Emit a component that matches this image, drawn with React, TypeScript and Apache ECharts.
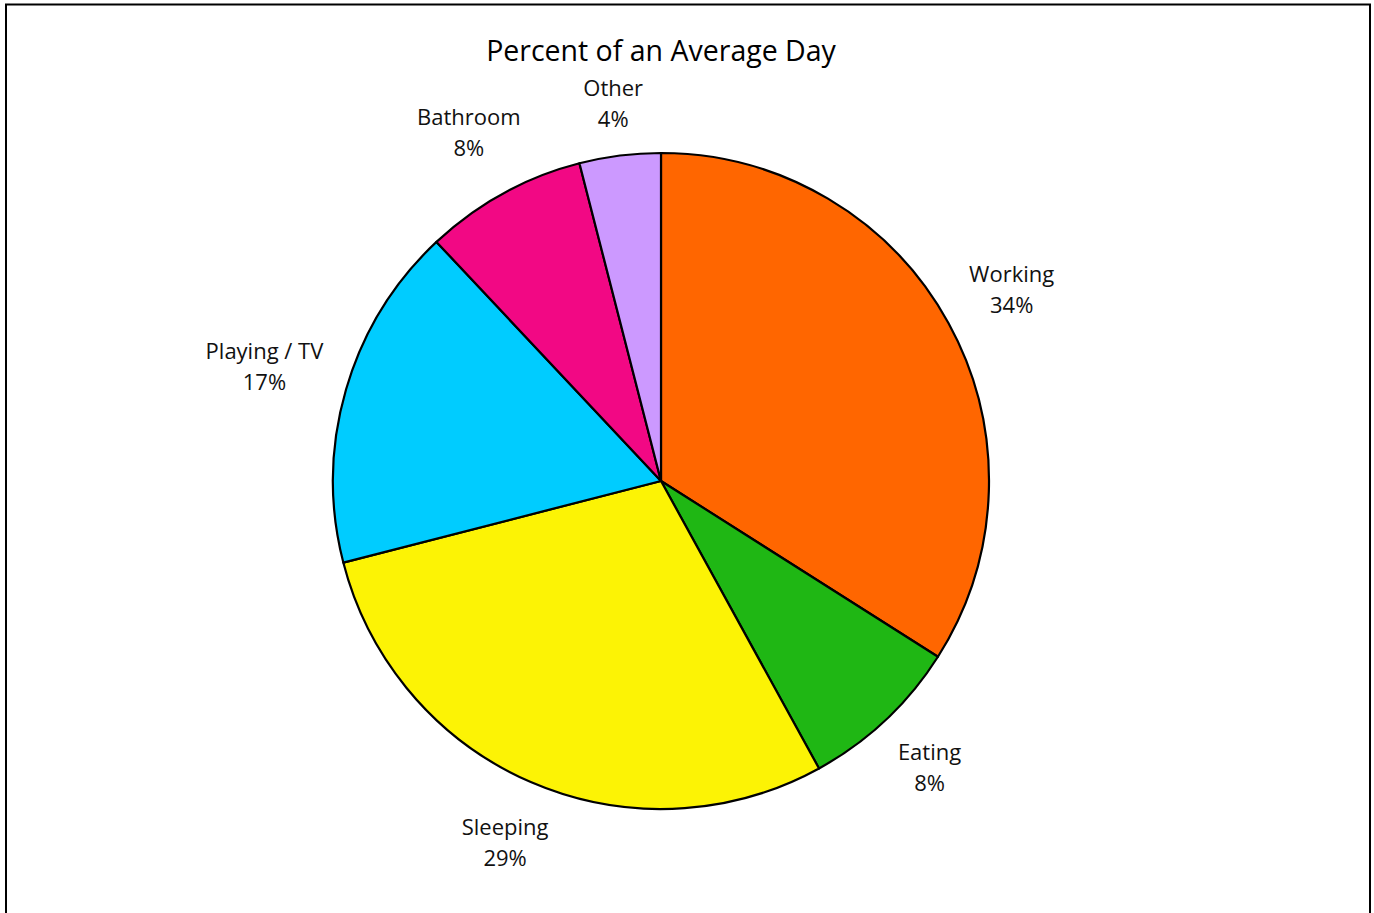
import React, { useEffect, useRef } from "react";
import * as echarts from "echarts";

const chartTitle = "Percent of an Average Day";
const categories = ["Working", "Eating", "Sleeping", "Playing / TV", "Bathroom", "Other"];
const percents = [34, 8, 29, 17, 8, 4];
const colors = ["#FF6600", "#1FB714", "#FCF305", "#00CCFF", "#F20884", "#CC99FF"];

const FONT = "'Open Sans', 'Noto Sans', sans-serif";

export default function App() {
  const ref = useRef<HTMLDivElement>(null);
  useEffect(() => {
    document.body.style.margin = "0";
    document.body.style.overflow = "hidden";
    const chart = echarts.init(ref.current!, null, { renderer: "svg" });
    const cx = 661;
    const cy = 481;
    const R = 328;
    const gap = 20;
    const total = percents.reduce((a, b) => a + b, 0);
    const mids: number[] = [];
    let acc = 0;
    percents.forEach((v) => {
      mids.push(((acc + v / 2) / total) * 2 * Math.PI);
      acc += v;
    });
    chart.setOption({
      animation: false,
      backgroundColor: "#ffffff",
      title: {
        text: chartTitle,
        left: cx,
        textAlign: "center",
        top: 35,
        padding: 0,
        textStyle: { fontFamily: FONT, fontSize: 28.5, fontWeight: "normal", color: "#000" },
      },
      graphic: [
        {
          type: "rect",
          silent: true,
          shape: { x: 6, y: 4.5, width: 1364, height: 1000 },
          style: { fill: "none", stroke: "#000", lineWidth: 2 },
        },
      ],
      series: [
        {
          type: "pie",
          center: [cx, cy],
          radius: R,
          startAngle: 90,
          clockwise: true,
          silent: true,
          emphasis: { disabled: true },
          data: categories.map((name, i) => ({
            name,
            value: percents[i],
            itemStyle: { color: colors[i] },
          })),
          itemStyle: { borderColor: "#000", borderWidth: 2.2 },
          label: {
            show: true,
            position: "outside",
            formatter: "{b}\n{c}%",
            fontFamily: FONT,
            fontSize: 22,
            lineHeight: 31,
            color: "#111",
            align: "center",
          },
          labelLine: { show: false },
          labelLayout: (p: any) => {
            const th = mids[p.dataIndex];
            const ux = Math.sin(th);
            const uy = -Math.cos(th);
            const w = p.labelRect.width;
            const h = p.labelRect.height;
            const sx = (Math.sign(ux) * w) / 2;
            const sy = (Math.sign(uy) * h) / 2;
            const us = ux * sx + uy * sy;
            const ss = sx * sx + sy * sy;
            const Rg = R + gap;
            const d = us + Math.sqrt(Math.max(0, us * us - ss + Rg * Rg));
            return { x: cx + d * ux, y: cy + d * uy, align: "center", verticalAlign: "middle" };
          },
        },
      ],
    });
    return () => chart.dispose();
  }, []);
  return <div ref={ref} style={{ width: 1374, height: 913 }} />;
}
